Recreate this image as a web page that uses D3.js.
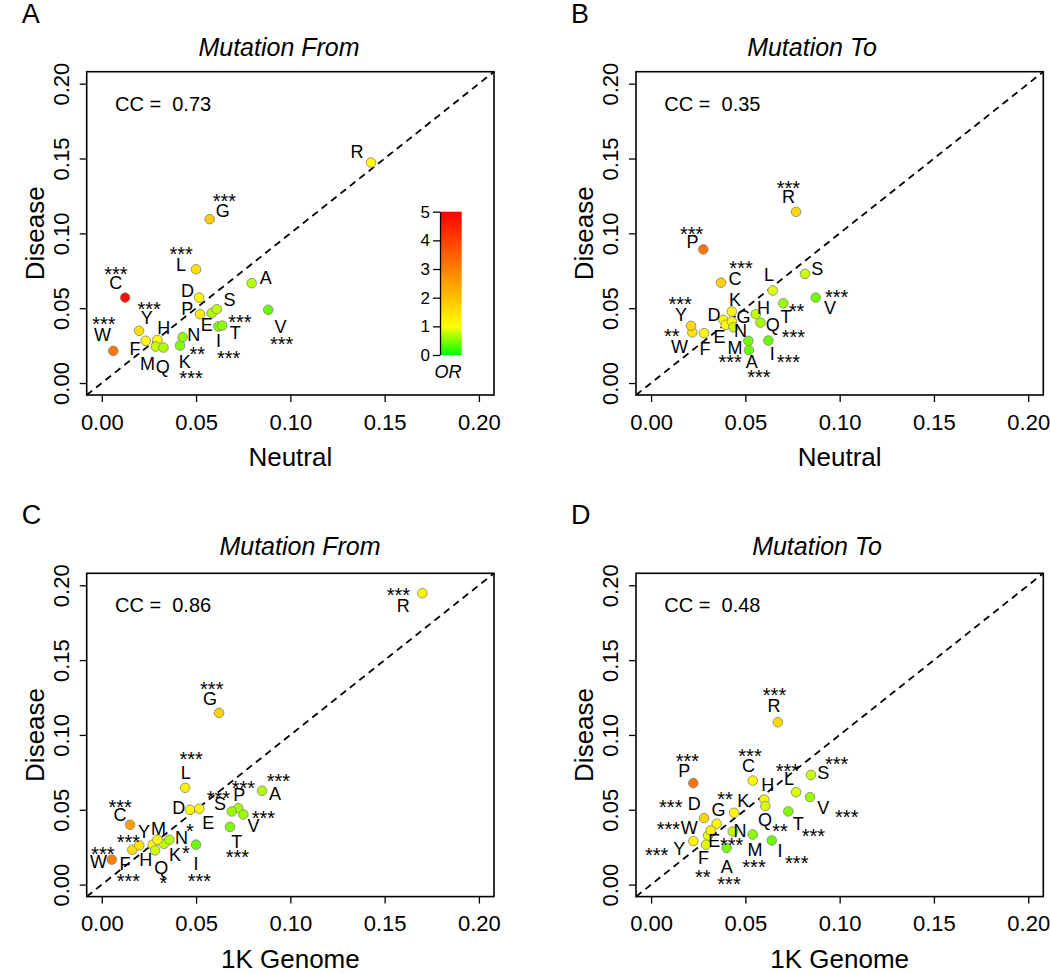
<!DOCTYPE html>
<html><head><meta charset="utf-8">
<script src="https://cdn.jsdelivr.net/npm/d3@7"></script>
<style>body{margin:0;background:#fff} text{font-family:"Liberation Sans",Arial,sans-serif}</style>
</head><body>
<svg id="c" width="1050" height="974" xmlns="http://www.w3.org/2000/svg"></svg>
<script>
// ---------------- DATA ----------------
const aminoAcids = ["A","C","D","E","F","G","H","I","K","L","M","N","P","Q","R","S","T","V","W","Y"];
const tickValues = [0, 0.05, 0.10, 0.15, 0.20];
const orTicks = [0, 1, 2, 3, 4, 5];

// Panel A: Mutation From, Neutral vs Disease
const neutralFromX = [0.0795,0.0124,0.0516,0.0583,0.0233,0.0572,0.0295,0.0618,0.0415,0.0500,0.0286,0.0429,0.0521,0.0327,0.1428,0.0610,0.0639,0.0883,0.0061,0.0198];
const neutralFromY = [0.0667,0.0571,0.0571,0.0467,0.0282,0.1095,0.0289,0.0378,0.0251,0.0760,0.0244,0.0307,0.0460,0.0237,0.1473,0.0493,0.0384,0.0489,0.0215,0.0349];
const neutralFromOR = [0.7,4.8,1.1,0.7,1.05,1.8,1.0,0.5,0.5,1.5,0.8,0.6,1.3,0.7,1.05,0.75,0.55,0.4,3.2,1.5];
const neutralFromSig = ["","***","","","","***","","***","***","***","","**","","","","","***","***","***","***"];

// Panel B: Mutation To, Neutral vs Disease
const neutralToX = [0.0519,0.0371,0.0383,0.0396,0.0281,0.0428,0.0555,0.0622,0.0428,0.0645,0.0516,0.0436,0.0277,0.0580,0.0769,0.0816,0.0701,0.0873,0.0219,0.0212];
const neutralToY = [0.0220,0.0671,0.0422,0.0389,0.0333,0.0411,0.0460,0.0284,0.0478,0.0618,0.0282,0.0373,0.0893,0.0404,0.1144,0.0729,0.0533,0.0571,0.0338,0.0382];
const neutralToOR = [0.4,1.7,1.05,1.05,1.1,1.0,0.75,0.4,1.1,0.9,0.45,0.8,3.2,0.65,1.6,0.8,0.6,0.45,1.4,1.6];
const neutralToSig = ["***","***","","","","","","***","","","***","","***","***","***","","**","***","**","***"];

// Panel C: Mutation From, 1K Genome vs Disease
const genomeFromX = [0.0850,0.0150,0.0468,0.0517,0.0162,0.0622,0.0270,0.0500,0.0330,0.0442,0.0295,0.0358,0.0724,0.0283,0.1700,0.0689,0.0680,0.0751,0.0053,0.0199];
const genomeFromY = [0.0627,0.0400,0.0500,0.0507,0.0233,0.1147,0.0267,0.0267,0.0273,0.0647,0.0300,0.0300,0.0511,0.0229,0.1947,0.0489,0.0385,0.0469,0.0167,0.0262];
const genomeFromOR = [0.7,2.5,1.05,1.1,1.5,1.7,1.1,0.4,0.75,1.2,1.0,0.7,0.65,0.8,1.1,0.6,0.5,0.6,3.0,1.4];
const genomeFromSig = ["***","***","","","***","***","","***","*","***","","*","***","*","***","***","***","***","***","***"];

// Panel D: Mutation To, 1K Genome vs Disease
const genomeToX = [0.0401,0.0539,0.0281,0.0302,0.0292,0.0348,0.0601,0.0640,0.0440,0.0769,0.0539,0.0433,0.0224,0.0606,0.0672,0.0848,0.0728,0.0843,0.0316,0.0224];
const genomeToY = [0.0245,0.0695,0.0445,0.0327,0.0267,0.0407,0.0569,0.0295,0.0480,0.0618,0.0335,0.0355,0.0678,0.0525,0.1085,0.0733,0.0489,0.0585,0.0362,0.0291];
const genomeToOR = [0.45,1.1,1.6,0.9,0.85,1.1,0.95,0.4,1.05,0.85,0.55,0.75,3.2,0.85,1.6,0.8,0.5,0.6,1.2,1.1];
const genomeToSig = ["***","***","***","***","**","","","***","**","***","***","","***","**","***","***","***","***","***","***"];

const ccValues = ["0.73","0.35","0.86","0.48"];

// ---------------- LABEL PLACEMENT (px offsets from point) ----------------
const labelOffA = [[14,-6],[-9.3,-15],[-11.7,-6.7],[-5,11.7],[-10.7,8],[13,-9],[6.3,-12.7],[0.3,14],[4.7,16],[-15,-4.3],[-8.3,16.7],[11,-3],[-12.7,-6],[-0.7,19],[-14,-11.3],[12.7,-10],[13,7],[12.3,16.7],[-10.7,-16.7],[7.7,-13.7]];
const starOffA = [null,[-9.3,-28.3],null,null,null,[14.7,-23],null,[10.3,26.7],[11,27.7],[-15,-20.3],null,[14.7,12],null,null,null,null,[17.7,-8],[13.3,29.3],[-9.3,-31.7],[10,-26]];
const labelOffB = [[2.7,11.3],[14,-3.7],[-9.3,-5],[-6.3,11.7],[1,15],[11.7,-5],[7.7,-6.7],[4,13.3],[3.3,-12.3],[-3.7,-16.3],[-13.3,6.3],[7.3,3.3],[-10.7,-7.7],[12.3,2.3],[-7.7,-15.7],[12.3,-5.7],[2.7,13.3],[14.3,10],[-13,14],[-10,-11]];
const starOffB = [[10,22.3],[20,-18.7],null,null,null,null,null,[20,17],null,null,[-18.3,16.7],null,[-11.7,-20],[33,10],[-7.7,-28.3],null,[13.3,2.7],[21,-5],[-20.7,-1],[-11,-26.7]];
const labelOffC = [[13,2.3],[-10,-10],[-11.3,-2.3],[9,13.3],[-7.3,13.3],[-9,-14.7],[-7,15],[0,19],[11,11],[0.7,-15.7],[1,-11.7],[12.3,-2.7],[1,-13.7],[6,16.7],[-19,12],[-11.7,-7.7],[6.7,14.3],[10,11],[-13.3,1.7],[4.7,-14]];
const starOffC = [[16.3,-14.3],[-10,-22.7],null,null,[-4,26.3],[-7.3,-29],null,[3.3,31.3],[22,5],[6,-33],null,[20.7,-13.3],[5,-24.3],[8.3,27.7],[-24,-3],[-13.3,-17.7],[7.3,25.7],[20,-0.7],[-9,-10],[-11,-8.3]];
const labelOffD = [[0,19],[-4.3,-15],[-9.7,-14.3],[6.3,4.7],[-2.7,13.3],[1.7,-14.3],[3.3,-14.7],[8.3,10],[9.3,-12.3],[-7,-14],[2.3,15.3],[7.3,-1],[-9,-12.7],[-0.3,13.3],[-3.7,-16.7],[12.3,-2],[10,12.3],[13.3,10],[-21.3,-3.3],[-14,7]];
const starOffD = [[2.3,31.7],[-2.7,-29.3],[-33.3,-16],[23.7,4.7],[-3.3,28],null,null,[25,17.7],[-9,-18],[-8.7,-25.7],[1.3,28.3],null,[-6,-26.7],[14.7,20],[-3.3,-31.7],[25.7,-15.3],[25,19.7],[36.7,15],[-42.3,-5.7],[-36.7,9.3]];

// ---------------- LAYOUT ----------------
const panels = [
  {letter:"A", title:"Mutation From", xlab:"Neutral",   left:86.7, top:71.7,  titleX:279, titleY:56,  X:neutralFromX, Y:neutralFromY, OR:neutralFromOR, S:neutralFromSig, lo:labelOffA, so:starOffA, cc:ccValues[0], bar:true},
  {letter:"B", title:"Mutation To",   xlab:"Neutral",   left:636,  top:71.7,  titleX:812, titleY:56,  X:neutralToX,   Y:neutralToY,   OR:neutralToOR,   S:neutralToSig,   lo:labelOffB, so:starOffB, cc:ccValues[1]},
  {letter:"C", title:"Mutation From", xlab:"1K Genome", left:86.7, top:573.3, titleX:300, titleY:555, X:genomeFromX,  Y:genomeFromY,  OR:genomeFromOR,  S:genomeFromSig,  lo:labelOffC, so:starOffC, cc:ccValues[2]},
  {letter:"D", title:"Mutation To",   xlab:"1K Genome", left:636,  top:573.3, titleX:817, titleY:555, X:genomeToX,    Y:genomeToY,    OR:genomeToOR,    S:genomeToSig,    lo:labelOffD, so:starOffD, cc:ccValues[3]}
];
const W = 407.3, H = 323.3;
const domain = [-0.008, 0.208];
const color = d3.scaleLinear().domain([0,1,5]).range(["#00ff00","#ffff00","#ff0000"]);
const labSize = 18, starSize = 20;

const svg = d3.select("#c");
svg.append("rect").attr("width",1050).attr("height",974).attr("fill","#fff");

panels.forEach(p => {
  const x = d3.scaleLinear().domain(domain).range([p.left, p.left + W]);
  const y = d3.scaleLinear().domain(domain).range([p.top + H, p.top]);
  const g = svg.append("g");

  // panel letter
  g.append("text").attr("x", p.left - 65).attr("y", p.top - 49).attr("font-size", 27).text(p.letter);
  // title
  g.append("text").attr("x", p.titleX).attr("y", p.titleY).attr("text-anchor","middle")
    .attr("font-size", 25).attr("font-style","italic").text(p.title);

  // x axis
  const xa = g.append("g").attr("transform", `translate(0,${p.top + H})`)
    .call(d3.axisBottom(x).tickValues(tickValues).tickFormat(d3.format(".2f")).tickSize(7).tickSizeOuter(0));
  xa.select(".domain").remove();
  xa.selectAll(".tick line").attr("stroke","#000").attr("stroke-width",1.3);
  xa.selectAll(".tick text").attr("font-size",22).attr("font-family","Liberation Sans, Arial, sans-serif")
    .attr("y", 19).attr("dy","0.71em").attr("fill","#000");
  // y axis
  const ya = g.append("g").attr("transform", `translate(${p.left},0)`)
    .call(d3.axisLeft(y).tickValues(tickValues).tickFormat(d3.format(".2f")).tickSize(7).tickSizeOuter(0));
  ya.select(".domain").remove();
  ya.selectAll(".tick line").attr("stroke","#000").attr("stroke-width",1.3);
  ya.selectAll(".tick text").attr("font-size",22).attr("font-family","Liberation Sans, Arial, sans-serif")
    .attr("x", null).attr("dy", null).attr("y", -17.7)
    .attr("text-anchor","middle").attr("transform","rotate(-90)").attr("fill","#000");

  // axis labels
  g.append("text").attr("x", p.left + W/2).attr("y", p.top + H + 71).attr("text-anchor","middle")
    .attr("font-size", 26).text(p.xlab);
  g.append("text").attr("transform", `translate(${p.left - 43},${p.top + H/2}) rotate(-90)`)
    .attr("text-anchor","middle").attr("font-size", 26).text("Disease");

  // diagonal dashed line
  g.append("line").attr("x1", x(domain[0])).attr("y1", y(domain[0])).attr("x2", x(domain[1])).attr("y2", y(domain[1]))
    .attr("stroke","#000").attr("stroke-width",1.8).attr("stroke-dasharray","7,5");

  // box
  g.append("rect").attr("x", p.left).attr("y", p.top).attr("width", W).attr("height", H)
    .attr("fill","none").attr("stroke","#000").attr("stroke-width",1.6);

  // CC text
  g.append("text").attr("x", p.left + 28.3).attr("y", p.top + 39).attr("font-size", 20)
    .attr("font-family","Liberation Serif, Times New Roman, serif").attr("xml:space","preserve")
    .style("white-space","pre").text("CC =  " + p.cc);

  const idx = d3.range(aminoAcids.length);
  // points
  g.selectAll("circle.pt").data(idx).join("circle").attr("class","pt")
    .attr("cx", i => x(p.X[i])).attr("cy", i => y(p.Y[i])).attr("r", 4.8)
    .attr("fill", i => color(p.OR[i])).attr("stroke","#8a8a8a").attr("stroke-width",0.9);
  // letter labels
  g.selectAll("text.lab").data(idx).join("text").attr("class","lab")
    .attr("x", i => x(p.X[i]) + p.lo[i][0]).attr("y", i => y(p.Y[i]) + p.lo[i][1] + labSize*0.36)
    .attr("text-anchor","middle").attr("font-size",labSize).text(i => aminoAcids[i]);
  // significance stars
  g.selectAll("text.sig").data(idx.filter(i => p.S[i] && p.so[i])).join("text").attr("class","sig")
    .attr("x", i => x(p.X[i]) + p.so[i][0]).attr("y", i => y(p.Y[i]) + p.so[i][1] + starSize*0.58)
    .attr("text-anchor","middle").attr("font-size",starSize).text(i => p.S[i]);

  // color bar
  if (p.bar) {
    const orScale = d3.scaleLinear().domain([0,5]).range([355, 211.7]);
    const defs = svg.append("defs");
    const grad = defs.append("linearGradient").attr("id","orgrad").attr("x1",0).attr("y1",1).attr("x2",0).attr("y2",0);
    [0,1,2,3,4,5].forEach(v => grad.append("stop").attr("offset", v/5).attr("stop-color", color(v)));
    g.append("rect").attr("x",440).attr("y",orScale(5)).attr("width",21.7).attr("height",orScale(0)-orScale(5))
      .attr("fill","url(#orgrad)");
    const ba = g.append("g").attr("transform","translate(440,0)")
      .call(d3.axisLeft(orScale).tickValues(orTicks).tickFormat(d3.format("d")).tickSize(7).tickSizeOuter(0));
    ba.select(".domain").attr("stroke","#000").attr("stroke-width",1.3);
    ba.selectAll(".tick line").attr("stroke","#000").attr("stroke-width",1.3);
    ba.selectAll(".tick text").attr("font-size",17).attr("font-family","Liberation Sans, Arial, sans-serif").attr("fill","#000").attr("x",-10);
    g.append("text").attr("x",448).attr("y",378).attr("text-anchor","middle").attr("font-size",18)
      .attr("font-style","italic").attr("font-family","Liberation Serif, Times New Roman, serif").text("OR");
  }
});
</script>
</body></html>
